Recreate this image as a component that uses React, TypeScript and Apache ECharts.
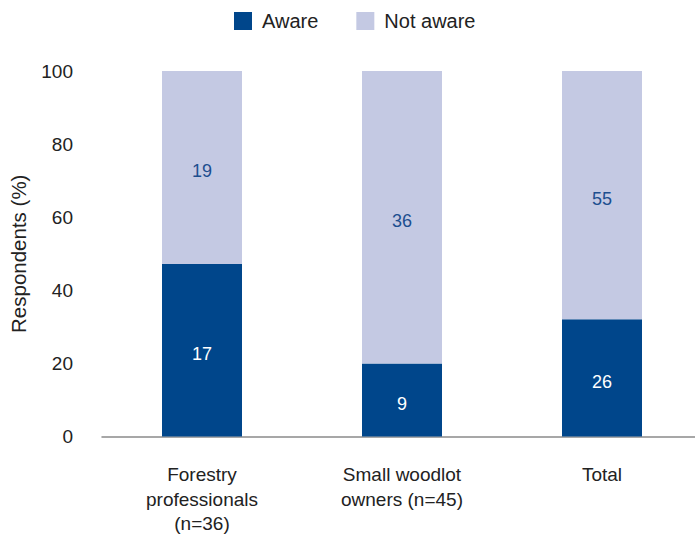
import React, { useEffect, useRef } from "react";
import * as echarts from "echarts";

const categories = ["Forestry\nprofessionals\n(n=36)", "Small woodlot\nowners (n=45)", "Total"];
const awarePct = [47.2, 20.0, 32.1];
const notAwarePct = [52.8, 80.0, 67.9];
const awareCounts = [17, 9, 26];
const notAwareCounts = [19, 36, 55];
const yTicks = [0, 20, 40, 60, 80, 100];

const FONT = "Liberation Sans, Arial, sans-serif";

export default function App() {
  const ref = useRef<HTMLDivElement>(null);
  useEffect(() => {
    if (!ref.current) return;
    const chart = echarts.init(ref.current, undefined, { renderer: "svg" });
    chart.setOption({
      animation: false,
      textStyle: { fontFamily: FONT },
      legend: {
        top: 11,
        left: 234,
        padding: 0,
        itemWidth: 18,
        itemHeight: 18,
        itemGap: 38,
        icon: "rect",
        textStyle: { fontSize: 20, color: "#222", fontFamily: FONT, padding: [0, 0, 0, 5] },
        data: ["Aware", "Not aware"],
      },
      grid: { left: 102, right: 0, top: 71, bottom: 97, containLabel: false },
      xAxis: {
        type: "category",
        data: categories,
        axisLine: { show: true, lineStyle: { color: "#8a8a8a", width: 1.5 } },
        axisTick: { show: false },
        axisLabel: { fontSize: 19, color: "#222", lineHeight: 24.5, margin: 26, fontFamily: FONT, interval: 0 },
      },
      yAxis: {
        type: "value",
        min: yTicks[0],
        max: yTicks[yTicks.length - 1],
        interval: 20,
        name: "Respondents (%)",
        nameLocation: "middle",
        nameGap: 73,
        nameTextStyle: { fontSize: 20.5, color: "#222", fontFamily: FONT },
        axisLine: { show: false },
        axisTick: { show: false },
        splitLine: { show: false },
        axisLabel: { fontSize: 19, color: "#222", margin: 29, fontFamily: FONT },
      },
      series: [
        {
          name: "Aware",
          type: "bar",
          stack: "total",
          barWidth: 80,
          itemStyle: { color: "#00468B" },
          data: awarePct,
          label: {
            show: true,
            position: "inside",
            offset: [0, 4],
            color: "#ffffff",
            fontSize: 18,
            fontFamily: FONT,
            formatter: (p: any) => String(awareCounts[p.dataIndex]),
          },
        },
        {
          name: "Not aware",
          type: "bar",
          stack: "total",
          barWidth: 80,
          itemStyle: { color: "#C4C9E3" },
          data: notAwarePct,
          label: {
            show: true,
            position: "inside",
            offset: [0, 4],
            color: "#1D4E8F",
            fontSize: 18,
            fontFamily: FONT,
            formatter: (p: any) => String(notAwareCounts[p.dataIndex]),
          },
        },
      ],
    });
    return () => chart.dispose();
  }, []);
  return (
    <div style={{ width: 695, height: 536, position: "absolute", left: 0, top: 0, overflow: "hidden" }}>
      <div ref={ref} style={{ width: 702, height: 536 }} />
    </div>
  );
}
